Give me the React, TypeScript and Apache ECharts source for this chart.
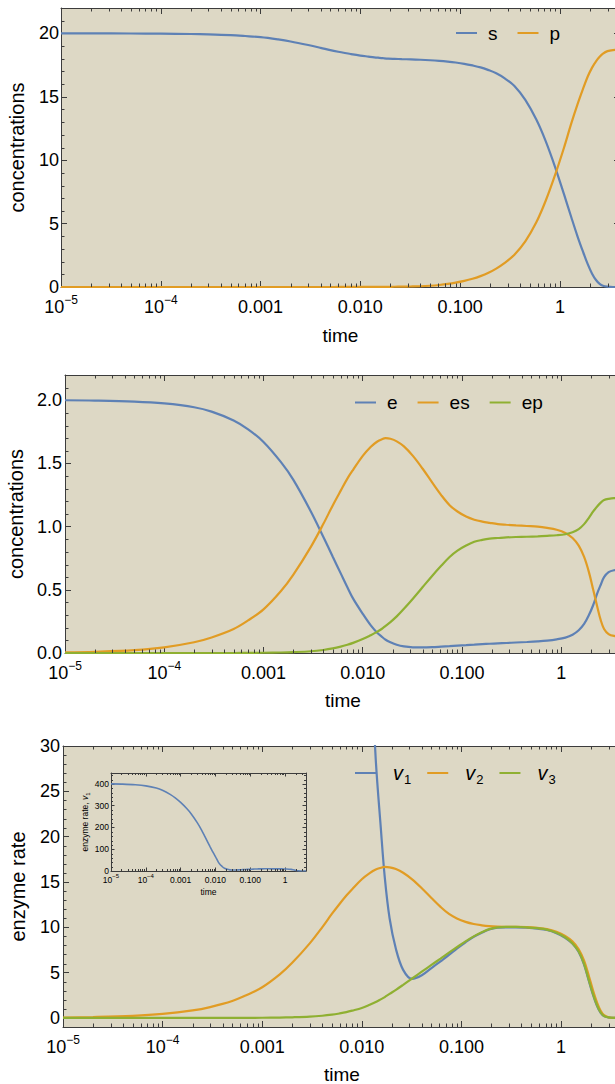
import React, { useEffect, useRef } from 'react';
import * as echarts from 'echarts';

// ---------------- data ----------------
const TIME = [1e-5, 2e-5, 5e-5, 1e-4, 2e-4, 3e-4, 5e-4, 7e-4, 1e-3, 1.5e-3, 2e-3, 3e-3, 4e-3, 5e-3, 6e-3, 7e-3, 8e-3, 0.01, 0.012, 0.0138, 0.0155, 0.017, 0.019, 0.022, 0.026, 0.032, 0.04, 0.05, 0.0617, 0.075, 0.09, 0.11, 0.133, 0.16, 0.19, 0.23, 0.28, 0.35, 0.45, 0.58, 0.72, 0.9, 1.1, 1.3, 1.5, 1.7, 1.9, 2.1, 2.3, 2.5, 2.7, 3.0, 3.4, 4.0];

const S = [20.0, 20.0, 19.99, 19.98, 19.95, 19.92, 19.86, 19.79, 19.70, 19.52, 19.36, 19.08, 18.86, 18.68, 18.55, 18.45, 18.37, 18.25, 18.17, 18.11, 18.07, 18.04, 18.01, 17.99, 17.97, 17.95, 17.92, 17.88, 17.83, 17.77, 17.70, 17.60, 17.47, 17.32, 17.12, 16.85, 16.45, 15.85, 14.75, 13.2, 11.5, 9.4, 7.3, 5.5, 4.0, 2.8, 1.8, 1.05, 0.55, 0.25, 0.1, 0.03, 0.0, 0.0];
const P = [0, 0, 0, 0, 0, 0, 0, 0, 0, 0, 0, 0, 0.001, 0.001, 0.002, 0.002, 0.003, 0.004, 0.006, 0.008, 0.01, 0.012, 0.015, 0.02, 0.028, 0.04, 0.06, 0.1, 0.16, 0.24, 0.34, 0.48, 0.65, 0.86, 1.1, 1.45, 1.9, 2.55, 3.6, 5.1, 6.8, 8.9, 11.0, 12.9, 14.4, 15.6, 16.6, 17.3, 17.8, 18.15, 18.4, 18.6, 18.68, 18.7];

const E = [2.0, 1.998, 1.99, 1.975, 1.945, 1.91, 1.84, 1.77, 1.67, 1.51, 1.37, 1.12, 0.92, 0.76, 0.63, 0.52, 0.43, 0.31, 0.22, 0.165, 0.13, 0.105, 0.085, 0.065, 0.052, 0.045, 0.044, 0.046, 0.05, 0.054, 0.058, 0.062, 0.066, 0.07, 0.073, 0.076, 0.079, 0.083, 0.087, 0.092, 0.098, 0.108, 0.122, 0.145, 0.18, 0.23, 0.3, 0.38, 0.47, 0.54, 0.6, 0.64, 0.655, 0.66];
const ES = [0.005, 0.01, 0.023, 0.045, 0.085, 0.123, 0.19, 0.258, 0.345, 0.49, 0.62, 0.84, 1.02, 1.17, 1.285, 1.38, 1.45, 1.56, 1.63, 1.67, 1.69, 1.70, 1.695, 1.675, 1.635, 1.56, 1.46, 1.35, 1.25, 1.17, 1.12, 1.08, 1.055, 1.04, 1.03, 1.02, 1.015, 1.01, 1.005, 1.0, 0.99, 0.975, 0.95, 0.91, 0.85, 0.76, 0.64, 0.5, 0.37, 0.26, 0.19, 0.15, 0.135, 0.13];
const EP = [0, 0, 0, 0, 0, 0, 0, 0.001, 0.002, 0.004, 0.007, 0.014, 0.024, 0.036, 0.05, 0.065, 0.08, 0.11, 0.14, 0.165, 0.19, 0.215, 0.245, 0.29, 0.35, 0.43, 0.52, 0.61, 0.69, 0.76, 0.81, 0.85, 0.88, 0.895, 0.905, 0.91, 0.915, 0.918, 0.92, 0.923, 0.927, 0.932, 0.94, 0.955, 0.98, 1.02, 1.07, 1.12, 1.16, 1.19, 1.21, 1.22, 1.225, 1.225];

const V1 = [400, 399, 396, 391, 381, 371, 352, 336, 315, 287, 263, 222, 188, 158, 133, 112, 94, 66, 42, 28.5, 21, 15.5, 11, 7.6, 5.3, 4.3, 4.7, 5.5, 6.25, 6.95, 7.65, 8.35, 8.95, 9.4, 9.75, 9.95, 10.0, 10.0, 9.95, 9.85, 9.7, 9.35, 8.85, 8.2, 7.3, 5.9, 4.1, 2.5, 1.3, 0.55, 0.2, 0.05, 0.0, 0.0];
const V2 = [0.05, 0.1, 0.23, 0.44, 0.83, 1.2, 1.86, 2.53, 3.38, 4.8, 6.08, 8.23, 10.0, 11.47, 12.6, 13.5, 14.2, 15.3, 15.97, 16.37, 16.56, 16.66, 16.61, 16.42, 16.02, 15.29, 14.31, 13.23, 12.25, 11.47, 10.98, 10.6, 10.36, 10.22, 10.13, 10.08, 10.06, 10.05, 10.02, 9.93, 9.8, 9.5, 9.05, 8.45, 7.6, 6.35, 4.65, 3.0, 1.7, 0.8, 0.32, 0.08, 0.01, 0];
const V3 = [0, 0, 0, 0, 0.001, 0.002, 0.005, 0.01, 0.02, 0.04, 0.07, 0.14, 0.24, 0.36, 0.5, 0.64, 0.8, 1.1, 1.45, 1.75, 2.05, 2.3, 2.65, 3.1, 3.65, 4.35, 5.1, 5.85, 6.55, 7.2, 7.8, 8.45, 9.0, 9.45, 9.8, 10.0, 10.05, 10.05, 10.0, 9.9, 9.75, 9.4, 8.9, 8.25, 7.35, 6.0, 4.2, 2.6, 1.4, 0.6, 0.22, 0.06, 0.01, 0];

// ---------------- axes / ticks ----------------
const X_MIN = 1e-5;
const X_MAX = 4;
const X_TICK_EXPONENTS = [-5, -4, -3, -2, -1, 0];
const X_TICK_LABELS = ['{b|10}{sup|−5}', '{b|10}{sup|−4}', '{b|0.001}', '{b|0.010}', '{b|0.100}', '{b|1}'];
const X_MINOR_MULTIPLIERS = [2, 3, 4, 5, 6, 7, 8, 9];

const Y1_RANGE = [0, 22];
const Y1_MAJOR = [0, 5, 10, 15, 20];
const Y1_LABELS = ['0', '5', '10', '15', '20'];
const Y2_RANGE = [0, 2.2];
const Y2_MAJOR = [0, 0.5, 1, 1.5, 2];
const Y2_LABELS = ['0.0', '0.5', '1.0', '1.5', '2.0'];
const Y3_RANGE = [-1, 30];
const Y3_MAJOR = [0, 5, 10, 15, 20, 25, 30];
const Y3_LABELS = ['0', '5', '10', '15', '20', '25', '30'];
const YI_RANGE = [0, 450];
const YI_MAJOR = [0, 100, 200, 300, 400];
const YI_LABELS = ['0', '100', '200', '300', '400'];

const BLUE = '#5E81B5';
const ORANGE = '#E19C24';
const GREEN = '#8FB032';
const BG = '#DDD8C5';
const FRAME = '#3c3c3c';
const INK = '#000000';
const FONT = '"Liberation Sans", Arial, Helvetica, sans-serif';

const X_MINOR = X_TICK_EXPONENTS.flatMap((d) => X_MINOR_MULTIPLIERS.map((m) => m * Math.pow(10, d))).filter((t) => t < X_MAX);

function minorValues(lo: number, hi: number, step: number, major: number): number[] {
  const out: number[] = [];
  const n = Math.round((hi - lo) / step);
  for (let i = 1; i < n; i++) {
    const v = +(lo + i * step).toFixed(6);
    const r = v / major;
    if (Math.abs(r - Math.round(r)) > 1e-6) out.push(v);
  }
  return out;
}

const pairs = (ys: number[]) => TIME.map((t, i) => [t, ys[i]]);

const xFormatter = (v: number) => {
  const lg = Math.log10(v);
  const k = Math.round(lg);
  if (Math.abs(lg - k) > 1e-6) return '';
  const i = X_TICK_EXPONENTS.indexOf(k);
  return i < 0 ? '' : X_TICK_LABELS[i];
};

type XOpt = { fs: number; sup: number; lh: number; supLh: number; margin: number; tick: number; nameFs: number; nameGap: number };

function xAxesFor(grid: number, o: XOpt) {
  const base: any = {
    type: 'log', logBase: 10, gridIndex: grid, min: X_MIN, max: X_MAX,
    axisLine: { show: true, onZero: false, lineStyle: { color: FRAME, width: 1 } },
    splitLine: { show: false },
    axisTick: { show: true, inside: true, length: o.tick, lineStyle: { color: FRAME, width: 1 } },
  };
  return [
    {
      ...base, position: 'bottom',
      axisLabel: {
        show: true, margin: o.margin, formatter: xFormatter, color: INK, fontFamily: FONT, fontSize: o.fs,
        rich: {
          b: { fontSize: o.fs, lineHeight: o.lh, verticalAlign: 'bottom', fontFamily: FONT, color: INK },
          sup: { fontSize: o.sup, lineHeight: o.supLh, verticalAlign: 'top', fontFamily: FONT, color: INK },
        },
      },
      name: 'time', nameLocation: 'middle', nameGap: o.nameGap,
      nameTextStyle: { fontSize: o.nameFs, fontFamily: FONT, color: INK },
    },
    { ...base, position: 'top', axisLabel: { show: false } },
  ];
}

type YOpt = { fs: number; margin: number; tick: number; name: string; nameFs: number; nameGap: number; nameRich?: any };

function yAxesFor(grid: number, range: number[], majors: number[], labels: string[], o: YOpt) {
  const fmt = (v: number) => {
    const i = majors.findIndex((m) => Math.abs(m - v) < 1e-9);
    return i < 0 ? '' : labels[i];
  };
  const base: any = {
    type: 'value', gridIndex: grid, min: range[0], max: range[1],
    axisLine: { show: true, onZero: false, lineStyle: { color: FRAME, width: 1 } },
    splitLine: { show: false },
    axisTick: { show: true, inside: true, length: o.tick, customValues: majors, lineStyle: { color: FRAME, width: 1 } },
  };
  return [
    {
      ...base, position: 'left',
      axisLabel: { show: true, margin: o.margin, customValues: majors, formatter: fmt, color: INK, fontFamily: FONT, fontSize: o.fs },
      name: o.name, nameLocation: 'middle', nameGap: o.nameGap,
      nameTextStyle: { fontSize: o.nameFs, fontFamily: FONT, color: INK, rich: o.nameRich },
    },
    { ...base, position: 'right', axisLabel: { show: false } },
  ];
}

function tickSeries(xi: number, yi: number, yMin: number, yMinor: number[], len: number) {
  const data = [...X_MINOR.map((t) => [t, yMin, 0]), ...yMinor.map((v) => [X_MIN, v, 1])];
  return {
    type: 'custom', xAxisIndex: xi, yAxisIndex: yi, silent: true, clip: false, z: 4,
    encode: { x: 0, y: 1 }, data,
    renderItem: (params: any, api: any) => {
      const cs = params.coordSys;
      const kind = api.value(2);
      const p = api.coord([api.value(0), api.value(1)]);
      const st = { stroke: FRAME, lineWidth: 1 };
      if (kind === 0) {
        const x = Math.round(p[0]) + 0.5;
        return {
          type: 'group', children: [
            { type: 'line', shape: { x1: x, y1: cs.y + cs.height, x2: x, y2: cs.y + cs.height - len }, style: st },
            { type: 'line', shape: { x1: x, y1: cs.y, x2: x, y2: cs.y + len }, style: st },
          ],
        };
      }
      const y = Math.round(p[1]) + 0.5;
      return {
        type: 'group', children: [
          { type: 'line', shape: { x1: cs.x, y1: y, x2: cs.x + len, y2: y }, style: st },
          { type: 'line', shape: { x1: cs.x + cs.width, y1: y, x2: cs.x + cs.width - len, y2: y }, style: st },
        ],
      };
    },
  };
}

function lineSeries(name: string, xi: number, ys: number[], color: string, width = 2.2) {
  return {
    type: 'line', name, xAxisIndex: xi, yAxisIndex: xi, data: pairs(ys),
    showSymbol: false, symbol: 'none', smooth: 0.35, color,
    lineStyle: { color, width }, z: 3, clip: true,
  };
}

function buildOption(): any {
  const grids = [
    { left: 61, top: 8, width: 559, height: 279 },
    { left: 65, top: 375, width: 556, height: 278 },
    { left: 63, top: 746, width: 558, height: 281 },
    { left: 111, top: 773, width: 195, height: 98 },
  ].map((g) => ({ ...g, show: true, backgroundColor: BG, borderWidth: 0, containLabel: false, outerBoundsMode: 'none' }));

  const mainX: XOpt = { fs: 18, sup: 12, lh: 22, supLh: 10, margin: 7, tick: 6, nameFs: 19, nameGap: 39 };
  const insetX: XOpt = { fs: 8.5, sup: 6, lh: 11, supLh: 5, margin: 2, tick: 3.5, nameFs: 8.5, nameGap: 16 };

  const xAxis = [
    ...xAxesFor(0, mainX),
    ...xAxesFor(1, { ...mainX, nameGap: 38 }),
    ...xAxesFor(2, { ...mainX, nameGap: 38 }),
    ...xAxesFor(3, insetX),
  ];
  const yAxis = [
    ...yAxesFor(0, Y1_RANGE, Y1_MAJOR, Y1_LABELS, { fs: 18, margin: 2, tick: 6, name: 'concentrations', nameFs: 20, nameGap: 34.5 }),
    ...yAxesFor(1, Y2_RANGE, Y2_MAJOR, Y2_LABELS, { fs: 18, margin: 3, tick: 6, name: 'concentrations', nameFs: 20, nameGap: 38.5 }),
    ...yAxesFor(2, Y3_RANGE, Y3_MAJOR, Y3_LABELS, { fs: 18, margin: 3, tick: 6, name: 'enzyme rate', nameFs: 20, nameGap: 35 }),
    ...yAxesFor(3, YI_RANGE, YI_MAJOR, YI_LABELS, {
      fs: 8.5, margin: 2, tick: 3.5, name: '{a|enzyme rate, }{v|v}{s|1}', nameFs: 8.5, nameGap: 20,
      nameRich: {
        a: { fontSize: 8.5, fontFamily: FONT, color: INK },
        v: { fontSize: 8.5, fontStyle: 'italic', fontFamily: FONT, color: INK },
        s: { fontSize: 6, fontFamily: FONT, color: INK, padding: [5, 0, 0, 0] },
      },
    }),
  ];

  const legendBase = {
    orient: 'horizontal', padding: 0, itemWidth: 21, itemHeight: 2, icon: 'rect', selectedMode: false,
    textStyle: { fontSize: 19, fontFamily: FONT, color: INK, padding: [0, 0, 0, 6] },
  };

  const legend = [
    { ...legendBase, data: ['s', 'p'], left: 456, top: 23.5, itemGap: 20 },
    { ...legendBase, data: ['e', 'es', 'ep'], left: 355, top: 393, itemGap: 20 },
    {
      ...legendBase, data: ['v1', 'v2', 'v3'], left: 355, top: 760.5, itemGap: 16,
      formatter: (n: string) => `{v|v}{s|${n.slice(1)}}`,
      textStyle: {
        fontSize: 20, fontFamily: FONT, color: INK, padding: [0, 0, 0, 12],
        rich: {
          v: { fontSize: 20, fontStyle: 'italic', fontFamily: FONT, color: INK, lineHeight: 20 },
          s: { fontSize: 13, fontFamily: FONT, color: INK, lineHeight: 13, padding: [12, 0, 0, 1] },
        },
      },
    },
  ];

  const series = [
    lineSeries('s', 0, S, BLUE),
    lineSeries('p', 0, P, ORANGE),
    tickSeries(0, 0, Y1_RANGE[0], minorValues(0, 22, 1, 5), 3.5),
    lineSeries('e', 2, E, BLUE),
    lineSeries('es', 2, ES, ORANGE),
    lineSeries('ep', 2, EP, GREEN),
    tickSeries(2, 2, Y2_RANGE[0], minorValues(0, 2.2, 0.1, 0.5), 3.5),
    lineSeries('v1', 4, V1, BLUE),
    lineSeries('v2', 4, V2, ORANGE),
    lineSeries('v3', 4, V3, GREEN),
    tickSeries(4, 4, Y3_RANGE[0], minorValues(-1, 30, 1, 5), 3.5),
    lineSeries('v1 (inset)', 6, V1, BLUE, 1.6),
    tickSeries(6, 6, YI_RANGE[0], minorValues(0, 450, 20, 100), 2),
  ];

  return { animation: false, backgroundColor: '#ffffff', grid: grids, xAxis, yAxis, legend, series };
}

export default function App() {
  const ref = useRef<HTMLDivElement>(null);
  useEffect(() => {
    document.body.style.margin = '0';
    const chart = echarts.init(ref.current as HTMLDivElement, undefined, { renderer: 'svg' });
    chart.setOption(buildOption());
    return () => chart.dispose();
  }, []);
  return <div ref={ref} style={{ width: 615, height: 1084, overflow: 'hidden' }} />;
}
